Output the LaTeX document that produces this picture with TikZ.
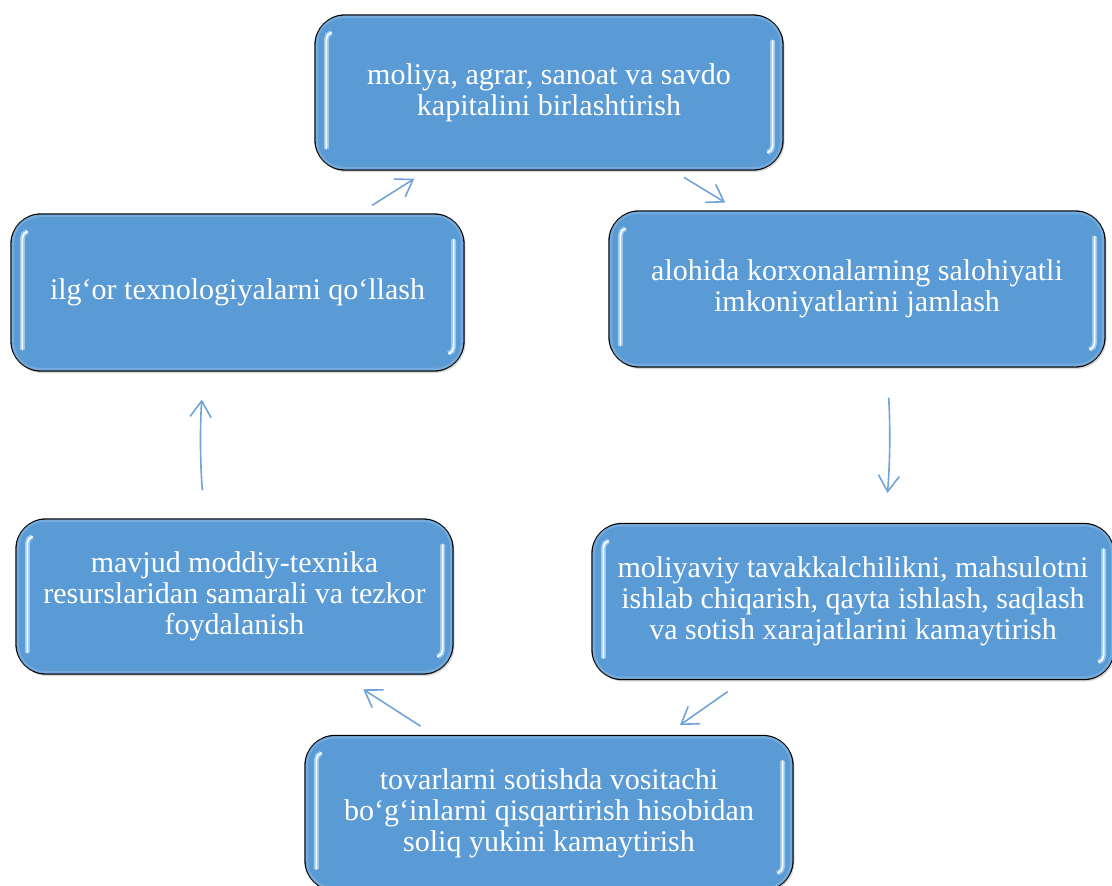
\documentclass[tikz,border=0pt]{standalone}
\usepackage{fontspec}
\setmainfont{Liberation Serif}
\usetikzlibrary{arrows.meta,shadows}
\definecolor{boxblue}{RGB}{91,155,213}
\definecolor{arrblue}{RGB}{112,163,217}
\definecolor{glint}{RGB}{160,206,244}
\begin{document}
\begin{tikzpicture}[x=1pt,y=1pt,
  blok/.style={draw=black,line width=1.3pt,fill=boxblue,rounded corners=30pt,
    text=white,align=center,inner sep=0pt,font=\fontsize{30}{31}\selectfont,
    drop shadow={opacity=0.3,shadow xshift=1.5pt,shadow yshift=-2pt}},
  kant/.style={boxblue!70!white,line width=2.5pt,opacity=.55,rounded corners=27pt},
  yaltir/.style={white,line width=1.6pt,line cap=round,
    preaction={draw=glint,line width=5pt,opacity=.9}},
  oq/.style={arrblue,line width=1.6pt,-{Straight Barb[length=16pt,width=21pt]}}]
\clip (0,0) rectangle (1112,-886);
% boxes of the cycle
\node[blok,minimum width=468pt,minimum height=155pt] (kapital) at (549,-92.5)
  {moliya, agrar, sanoat va savdo\\kapitalini birlashtirish};
\node[blok,minimum width=496pt,minimum height=156pt] (jamlash) at (857,-289)
  {alohida korxonalarning salohiyatli\\imkoniyatlarini jamlash};
\node[blok,minimum width=522pt,minimum height=156pt] (xarajat) at (853,-601.5)
  {moliyaviy tavakkalchilikni, mahsulotni\\ishlab chiqarish, qayta ishlash, saqlash\\va sotish xarajatlarini kamaytirish};
\node[blok,minimum width=488pt,minimum height=155pt] (soliq) at (549,-813)
  {tovarlarni sotishda vositachi\\bo‘g‘inlarni qisqartirish hisobidan\\soliq yukini kamaytirish};
\node[blok,minimum width=437pt,minimum height=155pt] (resurs) at (234.5,-596.5)
  {mavjud moddiy-texnika\\resurslaridan samarali va tezkor\\foydalanish};
\node[blok,minimum width=453pt,minimum height=157pt] (texno) at (237.5,-292.5)
  {ilg‘or texnologiyalarni qo‘llash};
% rim and glints
\foreach \n in {kapital,jamlash,xarajat,soliq,resurs,texno} {
  \draw[kant] ([shift={(2.5pt,-2.5pt)}]\n.north west) rectangle ([shift={(-2.5pt,2.5pt)}]\n.south east);
  \draw[yaltir] ([xshift=12pt,yshift=22pt]\n.south west) -- ([xshift=12pt,yshift=-25pt]\n.north west)
    to[out=90,in=200] ([xshift=17pt,yshift=-18pt]\n.north west);
  \draw[yaltir] ([xshift=-11pt,yshift=-26pt]\n.north east) -- ([xshift=-11pt,yshift=25pt]\n.south east)
    to[out=-90,in=20] ([xshift=-16pt,yshift=18pt]\n.south east);
}
% arrows
\draw[oq,shorten <=15pt,shorten >=15pt] ([xshift=122pt]texno.north) -- ([xshift=-122pt]kapital.south);
\draw[oq,shorten <=13pt,shorten >=15pt] ([xshift=124pt]kapital.south) -- ([xshift=-119pt]jamlash.north);
\draw[oq,shorten <=30pt,shorten >=30pt] ([xshift=30pt]jamlash.south) to[bend left=4] ([xshift=32pt]xarajat.north);
\draw[oq,shorten <=20pt,shorten >=17pt] ([xshift=-109pt]xarajat.south) -- ([xshift=117pt]soliq.north);
\draw[oq,shorten <=16pt,shorten >=27pt] ([xshift=-115pt]soliq.north) -- ([xshift=106pt]resurs.south);
\draw[oq,shorten <=28pt,shorten >=28pt] ([xshift=-30pt]resurs.north) to[bend left=4] ([xshift=-34pt]texno.south);
\end{tikzpicture}
\end{document}
